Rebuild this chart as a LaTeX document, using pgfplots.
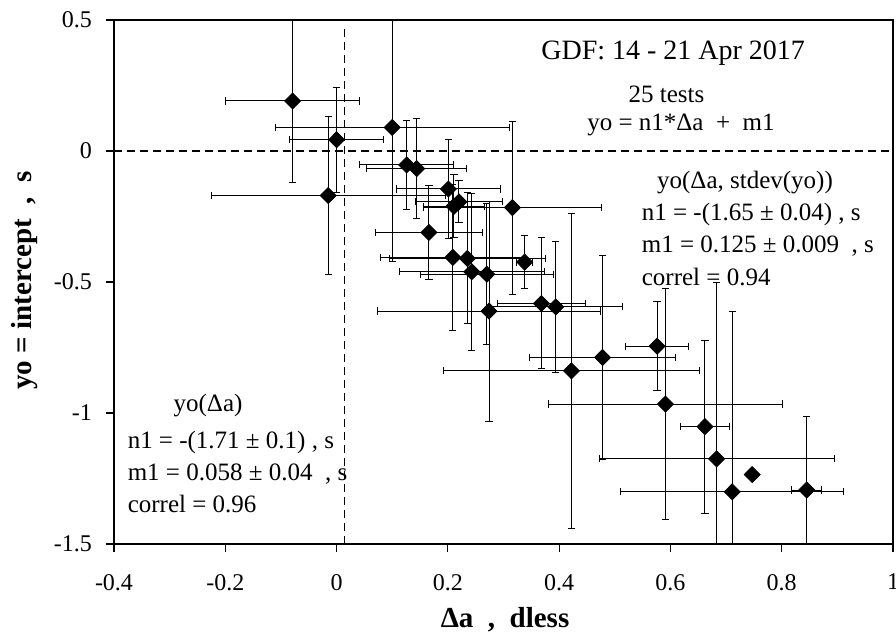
\documentclass[border=0pt]{standalone}
\usepackage{fontspec}
\setmainfont{Liberation Serif}
\usepackage{pgfplots}
\pgfplotsset{compat=1.18}
\usepackage{pgfplotstable}

% tests: da, yo, error in da, error in yo
\pgfplotstableread{
x y ex ey
-0.079 0.191 0.12 0.31
0.000 0.043 0.084 0.20
-0.015 -0.170 0.21 0.30
0.100 0.090 0.21 0.51
0.126 -0.053 0.085 0.17
0.144 -0.067 0.09 0.19
0.201 -0.145 0.094 0.19
0.220 -0.194 0.078 0.08
0.211 -0.211 0.055 0.12
0.316 -0.216 0.16 0.33
0.166 -0.311 0.096 0.18
0.209 -0.406 0.13 0.28
0.235 -0.410 0.14 0.25
0.338 -0.424 0.015 0.10
0.243 -0.461 0.13 0.30
0.270 -0.470 0.12 0.27
0.274 -0.611 0.20 0.42
0.368 -0.582 0.079 0.25
0.394 -0.595 0.12 0.25
0.422 -0.839 0.23 0.60
0.478 -0.788 0.131 0.39
0.576 -0.745 0.057 0.17
0.591 -0.966 0.21 0.44
0.662 -1.052 0.044 0.33
0.683 -1.175 0.211 0.672
0.747 -1.235 0 0
0.711 -1.301 0.20 0.69
0.845 -1.294 0.027 0.28
}\gdfdata

\begin{document}
\begin{tikzpicture}
\useasboundingbox (-57pt,-45pt) rectangle (391pt,272pt);
\begin{axis}[
  at={(0,0)}, anchor=south west,
  scale only axis, width=389.5pt, height=262pt,
  xmin=-0.4, xmax=1, ymin=-1.5, ymax=0.5,
  xtick={-0.4,-0.2,0,0.2,0.4,0.6,0.8,1},
  ytick={-1.5,-1,-0.5,0,0.5},
  tick align=outside, tick pos=left, major tick length=4pt,
  axis line style={line width=0.7pt},
  every tick/.style={black, line width=0.6pt},
  /pgf/number format/assume math mode=true,
  tick label style={font=\fontsize{12}{14}\selectfont},
  xticklabel style={yshift=-7.5pt},
  yticklabel style={xshift=-3.5pt},
  xlabel={\textbf{Δa~~,~~dless}},
  ylabel={\textbf{yo = intercept~~,~~s}},
  label style={font=\fontsize{14.5}{16}\selectfont},
  xlabel style={at={(axis description cs:0.502,0)}, anchor=center, yshift=-38pt},
  ylabel style={at={(axis description cs:0,0.503)}, anchor=center, yshift=44.5pt},
]
% dashed reference lines
\addplot[black, line width=0.6pt, dash pattern=on 4pt off 2.5pt] coordinates {(-0.4,0) (1,0)};
\addplot[black, line width=0.6pt, dash pattern=on 4pt off 2.5pt] coordinates {(0.014,-1.5) (0.014,0.48)};

\addplot[only marks, black, mark=diamond*, mark size=4pt,
  mark options={xscale=1.33, fill=black},
  error bars/.cd, x dir=both, x explicit, y dir=both, y explicit,
  error bar style={black, line width=0.5pt},
  error mark options={black, rotate=90, mark size=1.8pt, line width=0.5pt}]
  table[x=x, y=y, x error=ex, y error=ey] {\gdfdata};

\node[font=\fontsize{14}{16}\selectfont] at (axis cs:0.605,0.372) {GDF: 14 - 21 Apr 2017};
\node[font=\fontsize{12.5}{15}\selectfont] at (axis cs:0.593,0.216) {25 tests};
\node[font=\fontsize{12.5}{15}\selectfont] at (axis cs:0.619,0.098) {yo = n1*Δa\ \ +\ \ m1};
\node[font=\fontsize{12.5}{15}\selectfont] at (axis cs:0.734,-0.119) {yo(Δa, stdev(yo))};
\node[font=\fontsize{12.5}{15}\selectfont, anchor=west, inner sep=0pt] at (axis cs:0.548,-0.241) {n1 = -(1.65 ± 0.04) , s};
\node[font=\fontsize{12.5}{15}\selectfont, anchor=west, inner sep=0pt] at (axis cs:0.548,-0.362) {m1 = 0.125 ± 0.009\ \ , s};
\node[font=\fontsize{12.5}{15}\selectfont, anchor=west, inner sep=0pt] at (axis cs:0.548,-0.480) {correl = 0.94};
\node[font=\fontsize{12.5}{15}\selectfont] at (axis cs:-0.231,-0.973) {yo(Δa)};
\node[font=\fontsize{12.5}{15}\selectfont, anchor=west, inner sep=0pt] at (axis cs:-0.376,-1.113) {n1 = -(1.71 ± 0.1) , s};
\node[font=\fontsize{12.5}{15}\selectfont, anchor=west, inner sep=0pt] at (axis cs:-0.376,-1.233) {m1 = 0.058 ± 0.04\ \ , s};
\node[font=\fontsize{12.5}{15}\selectfont, anchor=west, inner sep=0pt] at (axis cs:-0.376,-1.347) {correl = 0.96};
\end{axis}
\end{tikzpicture}
\end{document}
